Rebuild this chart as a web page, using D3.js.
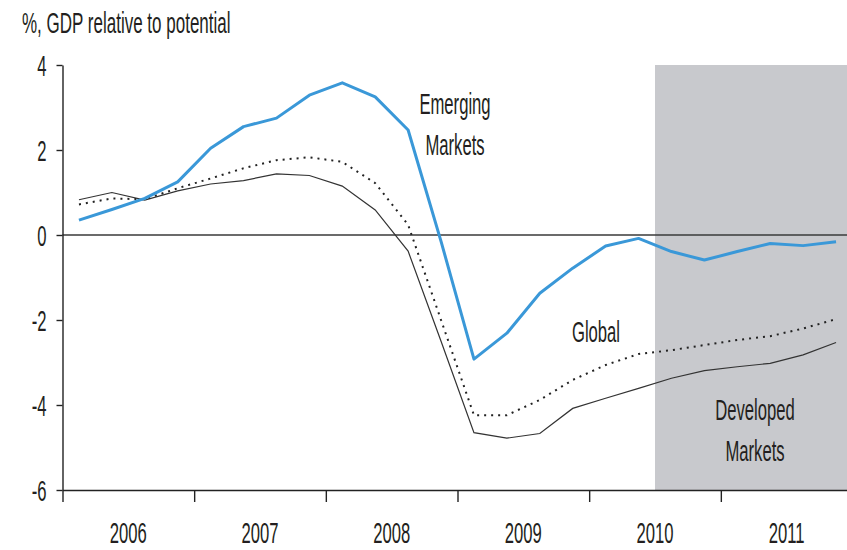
<!DOCTYPE html>
<html>
<head>
<meta charset="utf-8">
<script src="https://cdn.jsdelivr.net/npm/d3@7"></script>
<style>
    body { margin: 0; background: #fff; }
    svg { display: block; }
    text { font-family: "Liberation Sans", Arial, sans-serif; fill: #231f20; }
</style>
</head>
<body>
<div id="chart"></div>
<script>
const quarters = [
    "2006Q1", "2006Q2", "2006Q3", "2006Q4",
    "2007Q1", "2007Q2", "2007Q3", "2007Q4",
    "2008Q1", "2008Q2", "2008Q3", "2008Q4",
    "2009Q1", "2009Q2", "2009Q3", "2009Q4",
    "2010Q1", "2010Q2", "2010Q3", "2010Q4",
    "2011Q1", "2011Q2", "2011Q3", "2011Q4"
];
const emerging = [0.35, 0.6, 0.86, 1.25, 2.04, 2.55, 2.75, 3.29, 3.58, 3.25, 2.47, -0.15,
    -2.92, -2.31, -1.37, -0.78, -0.26, -0.08, -0.39, -0.59, -0.39, -0.2, -0.25, -0.16];
const global = [0.72, 0.86, 0.84, 1.1, 1.33, 1.57, 1.76, 1.83, 1.72, 1.22, 0.24, -2.0,
    -4.24, -4.24, -3.88, -3.41, -3.06, -2.8, -2.71, -2.59, -2.47, -2.38, -2.2, -1.98];
const developed = [0.83, 1.0, 0.82, 1.04, 1.2, 1.28, 1.44, 1.4, 1.15, 0.59, -0.38, -2.5,
    -4.65, -4.78, -4.67, -4.08, -3.84, -3.61, -3.37, -3.19, -3.1, -3.02, -2.82, -2.53];
const years = [2006, 2007, 2008, 2009, 2010, 2011];
const yTicks = [-6, -4, -2, 0, 2, 4];
const forecastStart = "2010Q3";

const width = 847, height = 550;
const sx = 0.555; // text is drawn condensed

// quarter label -> decimal year at middle of the quarter
function QuarterPos(q) {
    return +q.slice(0, 4) + (+q.slice(5) - 0.5) / 4;
};

const svg = d3.select("#chart").append("svg")
    .attr("width", width)
    .attr("height", height);

const x = d3.scaleLinear().domain([2006, 2012]).range([62.5, 852.5]);
const y = d3.scaleLinear().domain([-6, 4]).range([490, 65]);

function AddText(tx, ty, label, anchor, scaleX) {
    svg.append("text")
        .attr("transform", `translate(${tx}, ${ty}) scale(${scaleX || sx}, 1)`)
        .attr("text-anchor", anchor || "middle")
        .style("font-size", "30px")
        .text(label);
};

// shaded forecast area
svg.append("rect")
    .attr("x", x(QuarterPos(forecastStart) - 0.125))
    .attr("y", y(4))
    .attr("width", width - x(QuarterPos(forecastStart) - 0.125))
    .attr("height", y(-6) - y(4))
    .attr("fill", "#c8c9cd");

// zero line
svg.append("line")
    .attr("x1", x(2006))
    .attr("x2", width)
    .attr("y1", y(0))
    .attr("y2", y(0))
    .attr("stroke", "#3a3a3a")
    .attr("stroke-width", 1.6);

const line = d3.line()
    .x((d, i) => x(QuarterPos(quarters[i])))
    .y(d => y(d));

svg.append("path")
    .datum(developed)
    .attr("fill", "none")
    .attr("stroke", "#333")
    .attr("stroke-width", 1.2)
    .attr("d", line);

svg.append("path")
    .datum(global)
    .attr("fill", "none")
    .attr("stroke", "#222")
    .attr("stroke-width", 2)
    .attr("stroke-dasharray", "2,5")
    .attr("d", line);

svg.append("path")
    .datum(emerging)
    .attr("fill", "none")
    .attr("stroke", "#3a98d8")
    .attr("stroke-width", 3)
    .attr("stroke-linejoin", "round")
    .attr("d", line);

// y axis
const yAxis = svg.append("g")
    .attr("transform", `translate(${x(2006)}, 0)`)
    .call(d3.axisLeft(y).tickValues(yTicks).tickSize(6).tickSizeOuter(0).tickFormat(d => String(d)));
yAxis.selectAll("path, line").attr("stroke", "#222").attr("stroke-width", 1.4);
yAxis.selectAll("text")
    .attr("x", -16 / sx)
    .attr("dy", "0.36em")
    .attr("transform", `scale(${sx}, 1)`)
    .style("font-size", "30px")
    .attr("fill", "#231f20");

// x axis
const xAxis = svg.append("g")
    .attr("transform", `translate(0, ${y(-6)})`)
    .call(d3.axisBottom(x).tickValues(years).tickSize(12).tickSizeOuter(0).tickFormat(""));
xAxis.selectAll("path, line").attr("stroke", "#222").attr("stroke-width", 1.4);

// year labels sit between ticks; kept just inside the bottom edge
years.forEach(yr => AddText(x(yr + 0.5), 543, yr));

// title and labels
AddText(22, 33, "%, GDP relative to potential", "start", 0.567);
AddText(455, 114, "Emerging");
AddText(455, 155, "Markets");
AddText(596, 342, "Global");
AddText(755, 420, "Developed");
AddText(755, 461, "Markets");
</script>
</body>
</html>
